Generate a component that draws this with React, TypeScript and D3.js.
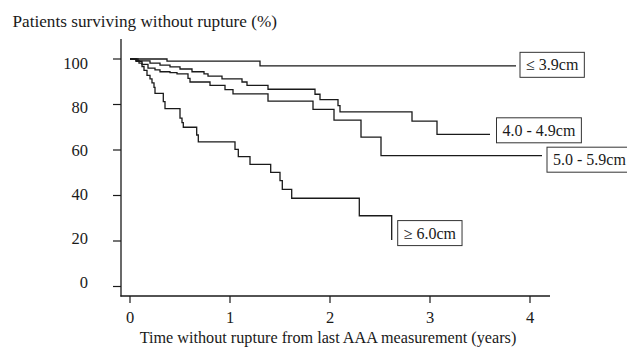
import React, { useRef, useEffect } from "react";
import * as d3 from "d3";

// Kaplan-Meier estimates: [years, % surviving]
const groupLabels = ["≤ 3.9cm", "4.0 - 4.9cm", "5.0 - 5.9cm", "≥ 6.0cm"];

const le39 = [
  [0, 100], [0.37, 99.1], [1.3, 97.0],
];
const g40to49 = [
  [0, 100], [0.08, 99.2], [0.2, 98.2], [0.3, 97.3], [0.4, 96.5], [0.5, 95.6],
  [0.62, 94.4], [0.74, 93.5], [0.78, 92.5], [0.92, 91.3], [1.12, 89.9],
  [1.17, 88.4], [1.38, 86.7], [1.85, 84.5], [1.9, 82.1], [2.08, 79.5],
  [2.1, 76.8], [2.82, 72.7], [3.07, 66.9],
];
const g50to59 = [
  [0, 100], [0.06, 99.0], [0.12, 97.6], [0.18, 96.0], [0.25, 95.2], [0.3, 94.4],
  [0.4, 94.0], [0.47, 93.5], [0.58, 91.5], [0.6, 89.9], [0.8, 88.4],
  [0.95, 86.5], [1.03, 84.7], [1.38, 81.5], [1.83, 77.9], [2.04, 73.1],
  [2.31, 65.7], [2.51, 57.5],
];
const ge60 = [
  [0, 100], [0.06, 99.3], [0.09, 98.2], [0.12, 96.7], [0.14, 95.0], [0.17, 92.8],
  [0.2, 91.3], [0.22, 89.5], [0.24, 87.5], [0.25, 84.9], [0.333, 81.3],
  [0.35, 78.2], [0.5, 74.0], [0.52, 72.0], [0.533, 70.0], [0.667, 66.6],
  [0.683, 63.6], [1.05, 60.3], [1.083, 57.1], [1.2, 53.7], [1.407, 50.2],
  [1.5, 46.5], [1.523, 42.7], [1.617, 38.8], [2.293, 31.1], [2.617, 20.4],
];
// last follow-up time of each group (years)
const followUpEnd = [3.86, 3.6, 4.12, 2.617];

const xTicks = [0, 1, 2, 3, 4];
const yTicks = [0, 20, 40, 60, 80, 100];

const xTitle = "Time without rupture from last AAA measurement (years)";
const yTitle = "Patients surviving without rupture (%)";

export default function App() {
  const svgRef = useRef<SVGSVGElement>(null);

  useEffect(() => {
    const width = 627;
    const height = 347;
    const svg = d3.select(svgRef.current);
    svg.selectAll("*").remove();

    const font = "'Liberation Serif', 'Times New Roman', serif";
    const ink = "#1a1a1a";

    const x = d3.scaleLinear().domain([0, 4]).range([130, 530]);
    const y = d3.scaleLinear().domain([0, 100]).range([286.5, 59]);
    // tick labels in the original sit on a slightly tighter spacing
    const yLab = d3.scaleLinear().domain([0, 100]).range([282.5, 63]);

    svg.attr("width", width).attr("height", height).attr("font-family", font);

    // axes
    const yAxis = svg.append("g").attr("transform", "translate(121,0)");
    yAxis.append("line").attr("y1", 39).attr("y2", 296.5).attr("stroke", ink).attr("stroke-width", 1.3);
    yAxis
      .selectAll("line.tick")
      .data(yTicks)
      .join("line")
      .attr("class", "tick")
      .attr("x1", -8)
      .attr("x2", 0)
      .attr("y1", (d) => y(d))
      .attr("y2", (d) => y(d))
      .attr("stroke", ink)
      .attr("stroke-width", 1.2);
    yAxis
      .selectAll("text")
      .data(yTicks)
      .join("text")
      .attr("x", -33)
      .attr("y", (d) => yLab(d))
      .attr("dy", "0.34em")
      .attr("text-anchor", "end")
      .attr("font-size", 16.5)
      .attr("fill", ink)
      .text((d) => d);

    const xAxis = svg.append("g").attr("transform", "translate(0,296)");
    xAxis.append("line").attr("x1", 120.4).attr("x2", 550).attr("stroke", ink).attr("stroke-width", 1.3);
    xAxis
      .selectAll("line.tick")
      .data(xTicks)
      .join("line")
      .attr("class", "tick")
      .attr("x1", (d) => x(d))
      .attr("x2", (d) => x(d))
      .attr("y1", 0)
      .attr("y2", 7)
      .attr("stroke", ink)
      .attr("stroke-width", 1.2);
    xAxis
      .selectAll("text")
      .data(xTicks)
      .join("text")
      .attr("x", (d) => x(d))
      .attr("y", 26.5)
      .attr("text-anchor", "middle")
      .attr("font-size", 16.5)
      .attr("fill", ink)
      .text((d) => d);

    svg
      .append("text")
      .attr("x", x(2) - 2)
      .attr("y", 342.5)
      .attr("text-anchor", "middle")
      .attr("font-size", 16.2)
      .attr("fill", ink)
      .text(xTitle);

    svg
      .append("text")
      .attr("x", 12.5)
      .attr("y", 26.5)
      .attr("font-size", 17.2)
      .attr("fill", ink)
      .text(yTitle);

    // survival curves
    const series = [le39, g40to49, g50to59, ge60].map((pts, i) => {
      const last = pts[pts.length - 1];
      const full = last[0] < followUpEnd[i] ? [...pts, [followUpEnd[i], last[1]]] : pts;
      return { label: groupLabels[i], pts: full, end: followUpEnd[i], endVal: last[1] };
    });

    const line = d3
      .line<number[]>()
      .x((d) => x(d[0]))
      .y((d) => y(d[1]))
      .curve(d3.curveStepAfter);

    svg
      .append("g")
      .selectAll("path")
      .data(series)
      .join("path")
      .attr("d", (d) => line(d.pts))
      .attr("fill", "none")
      .attr("stroke", ink)
      .attr("stroke-width", 1.3);

    // boxed labels at the end of each curve
    const boxShift = [-1, -4, 4, -7];
    const gap = [4, 6.5, 5, 6];
    series.forEach((s, i) => {
      const cy = y(s.endVal) + boxShift[i];
      const g = svg.append("g").attr("transform", `translate(${x(s.end) + gap[i]},${cy})`);
      const rect = g
        .append("rect")
        .attr("y", -12.5)
        .attr("height", 25)
        .attr("fill", "white")
        .attr("stroke", "#333")
        .attr("stroke-width", 1);
      const t = g
        .append("text")
        .attr("x", 6)
        .attr("dy", "0.34em")
        .attr("font-size", 16)
        .attr("fill", ink)
        .text(s.label);
      const w = (t.node() as SVGTextElement).getComputedTextLength();
      rect.attr("width", w + 12);
    });
  }, []);

  return (
    <svg
      ref={svgRef}
      style={{ position: "absolute", left: 0, top: 0, display: "block", background: "white" }}
    />
  );
}
